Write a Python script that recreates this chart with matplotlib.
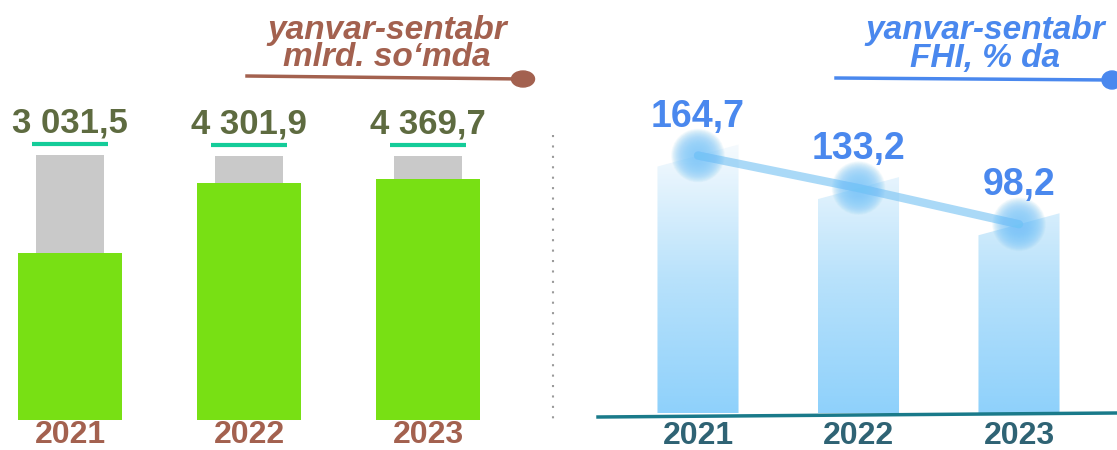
import matplotlib
matplotlib.use("Agg")
import matplotlib.pyplot as plt
import numpy as np
from matplotlib.patches import Polygon, Ellipse
from matplotlib.colors import LinearSegmentedColormap

plt.rcParams['font.family'] = ['Liberation Sans', 'DejaVu Sans']

# left panel: mlrd. so'm
years = ['2021', '2022', '2023']
amount = [3031.5, 4301.9, 4369.7]
amount_labels = ['3 031,5', '4 301,9', '4 369,7']
amount_back = [4810, 4790, 4790]

# right panel: FHI, %
fhi = [164.7, 133.2, 98.2]
fhi_labels = ['164,7', '133,2', '98,2']

W, H = 1117, 450
fig = plt.figure(figsize=(W / 100, H / 100), dpi=100)

# ---------- left panel
axl = fig.add_axes([0, (H - 420) / H, 540 / W, 320 / H])
axl.axis('off')
axl.set_xlim(-70 / 179, 470 / 179)
ytop = 5813
axl.set_ylim(0, ytop)
upp = ytop / 320  # value per pixel

x = np.arange(len(years))
axl.bar(x, amount_back, width=0.385, color='#c9c9c9', zorder=1)
axl.bar(x, amount, width=0.581, color='#78e014', zorder=2)
for i in range(len(years)):
    axl.text(x[i], amount_back[i] + 32 * upp, amount_labels[i], ha='center', va='center',
             fontsize=25, fontweight='bold', color='#5e6b40', clip_on=False)
    axl.plot([x[i] - 0.215, x[i] + 0.215], [amount_back[i] + 11 * upp] * 2,
             color='#14cc99', lw=3, solid_capstyle='butt', clip_on=False)
    axl.text(x[i], -15 * upp, years[i], ha='center', va='center', fontsize=23,
             fontweight='bold', color='#a3614f', clip_on=False)

# ---------- right panel
axr = fig.add_axes([560 / W, (H - 413) / H, 557 / W, 323 / H])
axr.axis('off')
axr.set_xlim(-138 / 160.5, 419 / 160.5)
ybot, ytop_r = -84.4, 228.1
axr.set_ylim(ybot, ytop_r)
vpp = (ytop_r - ybot) / 323

cmap = LinearSegmentedColormap.from_list('fade', ['#8fd1fb', '#b9e2fb', '#f7fbfe'])
bw = 0.505
grad_top = ytop_r - 50 * vpp
for i, v in enumerate(fhi):
    l, r = i - bw / 2, i + bw / 2
    d = 11 * vpp
    poly = Polygon([(l, ybot), (l, v - d), (i, v), (r, v + d), (r, ybot)],
                   closed=True, facecolor='none', edgecolor='none')
    axr.add_patch(poly)
    yy = np.linspace(ybot, grad_top, 200)
    g = ((yy - ybot) / (grad_top - ybot))[:, None]
    im = axr.imshow(g, extent=(l, r, ybot, grad_top), origin='lower', cmap=cmap,
                    aspect='auto', zorder=1, vmin=0, vmax=1)
    im.set_clip_path(poly)

axr.plot(x, fhi, color='#86c9f4', lw=6, alpha=0.7, solid_capstyle='round', zorder=3)
for s in np.linspace(1500, 40, 30):
    axr.scatter(x, fhi, s=s, color='#6fc4f8', alpha=0.045, edgecolors='none', zorder=4)

for i, v in enumerate(fhi):
    axr.text(x[i], v + 39 * vpp, fhi_labels[i], ha='center', va='center', fontsize=27,
             fontweight='bold', color='#4a88ee', zorder=5)
    axr.text(x[i], ybot - 23 * vpp, years[i], ha='center', va='center', fontsize=23,
             fontweight='bold', color='#2f6374', clip_on=False)

# ---------- overlay (titles, separators) in pixel coords
ov = fig.add_axes([0, 0, 1, 1])
ov.set_xlim(0, W)
ov.set_ylim(H, 0)
ov.axis('off')
ov.patch.set_alpha(0)

brown = '#a3614f'
ov.text(387, 30, 'yanvar-sentabr', ha='center', va='center', fontsize=24,
        fontweight='bold', style='italic', color=brown)
ov.text(387, 58, 'mlrd. so\u2018mda', ha='center', va='center', fontsize=24,
        fontweight='bold', style='italic', color=brown)
ov.plot([247, 523], [76, 79], color=brown, lw=2.5)
ov.add_patch(Ellipse((523, 79), 23, 16, color=brown))

blue = '#4a88ee'
ov.text(985, 30, 'yanvar-sentabr', ha='center', va='center', fontsize=24,
        fontweight='bold', style='italic', color=blue)
ov.text(985, 58, 'FHI, % da', ha='center', va='center', fontsize=24,
        fontweight='bold', style='italic', color=blue)
ov.plot([836, 1110], [78, 80], color=blue, lw=2.5)
ov.add_patch(Ellipse((1112, 80), 20, 18, color=blue))

ov.plot([553, 553], [135, 420], color='#9a9a9a', lw=1.5, ls=(0, (1, 4)))
ov.plot([598, 1117], [417, 413], color='#1a7a8a', lw=2.5)

fig.savefig('out.png', dpi=100)
